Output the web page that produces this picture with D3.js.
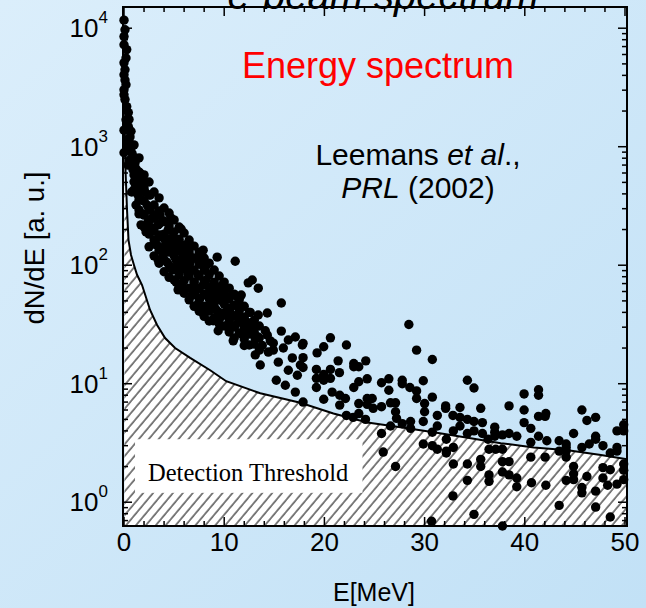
<!DOCTYPE html>
<html><head><meta charset="utf-8">
<script src="https://cdn.jsdelivr.net/npm/d3@7"></script>
<style>html,body{margin:0;padding:0;overflow:hidden;background:#d4ebf9}</style>
</head><body><svg id="c" width="646" height="608"></svg>
<script>
// ---------------- data ----------------
const xTickValues = [0, 10, 20, 30, 40, 50];
const yTickExponents = [0, 1, 2, 3, 4];
const xLabel = "E[MeV]";
const yLabel = "dN/dE [a. u.]";
const titleText = "e-beam spectrum";
const panelTitle = "Energy spectrum";
const thresholdLabel = "Detection Threshold";

// detection threshold curve [E (MeV), dN/dE]
const thresholdCurve = [
  [0.05,1680],[0.15,637],[0.3,293],[0.45,163],[0.7,122],[1.0,100],[1.3,83],[1.8,68],
  [2.6,41.9],[3.3,31.3],[4.1,24.3],[5.1,20],[6.6,16.5],[8.6,13.0],[10.2,10.5],[13.6,8.3],
  [17.6,6.9],[20.9,5.6],[24.3,4.7],[27.6,4.3],[30.9,3.9],[34.3,3.5],[37.6,3.15],[40.9,2.9],
  [44.3,2.75],[47.6,2.5],[50.2,2.3]
];

// measured spectrum, low-energy column
const lowEnergyPoints = [
  [0,11700],[0.1,9700],[0,8500],[0,7250],[0.27,6600],[0.2,5600],[0,5100],[0.1,4460],[0,4050],
  [0.1,3650],[0.2,3330],[0,3020],[0,2740],[0.1,2500],[0.27,2180],[0.43,1940],[0.2,1690],
  [0.43,1480],[0,1380],[0.6,1210],[0.3,1140],[0.77,1000],[0.4,940],[0,890],[0.9,820],[0.6,775],
  [1.1,730],[0.4,700],[0.9,640],[1.6,600],[1.2,545],[1.9,525],[1.0,505],[0.77,415],[2.6,390],
  [0.5,1700],[0.7,1350],[0.5,1100],[0.8,880],[1.2,650],[1.4,520]
];

// dense band 1-14 MeV
const bandCore = [
  [1.0,1036],[1.0,774],[1.0,578],[1.0,432],
  [1.5,804],[1.5,612],[1.5,467],[1.5,355],[1.5,271],
  [2.0,578],[2.0,449],[2.0,349],[2.0,271],[2.0,210],
  [2.5,504],[2.5,392],[2.5,304],[2.5,236],[2.5,183],[2.5,143],
  [3.0,415],[3.0,322],[3.0,250],[3.0,194],[3.0,151],[3.0,120],
  [3.5,370],[3.5,287],[3.5,223],[3.5,173],[3.5,134],[3.5,104],
  [4.0,304],[4.0,236],[4.0,183],[4.0,143],[4.0,111],[4.0,88],
  [4.5,276],[4.5,214],[4.5,166],[4.5,129],[4.5,100],[4.5,79],
  [5.0,241],[5.0,191],[5.0,151],[5.0,120],[5.0,95],[5.0,75],
  [5.5,210],[5.5,166],[5.5,132],[5.5,104],[5.5,83],[5.5,65],
  [6.0,187],[6.0,148],[6.0,117],[6.0,93],[6.0,74],[6.0,58],
  [6.5,163],[6.5,129],[6.5,102],[6.5,81],[6.5,64],[6.5,51],
  [7.0,145],[7.0,115],[7.0,91],[7.0,72],[7.0,57],[7.0,45],
  [7.5,129],[7.5,102],[7.5,81],[7.5,64],[7.5,51],[7.5,41],
  [8.0,115],[8.0,91],[8.0,72],[8.0,57],[8.0,45],[8.0,37],
  [8.5,104],[8.5,83],[8.5,65],[8.5,52],[8.5,41],[8.5,33.8],
  [9.0,91],[9.0,72],[9.0,57],[9.0,45],[9.0,35.8],
  [9.5,81],[9.5,64],[9.5,51],[9.5,40],[9.5,31.9],
  [10.0,72],[10.0,58],[10.0,47],[10.0,38],[10.0,30.7],
  [10.5,64],[10.5,52],[10.5,42],[10.5,33.8],[10.5,27.3],
  [11.0,57],[11.0,46],[11.0,37],[11.0,30.1],[11.0,24.3],
  [11.5,51],[11.5,41],[11.5,33.1],[11.5,26.8],
  [12.0,45],[12.0,36.5],[12.0,29.5],[12.0,23.8],
  [12.5,40],[12.5,32.5],[12.5,26.2],[12.5,21.2],
  [13.0,34.4],[13.0,27.3],[13.0,21.6],
  [13.5,30.7],[13.5,24.3],[13.5,19.2]
];
const bandPoints = [
  [1.2,476],[1.4,392],[1.6,449],[1.8,355],[2.1,415],[2.3,322],[1.5,293],[2.0,265],[2.4,232],
  [1.2,322],[1.7,219],[2.6,293],[2.8,250],[2.2,191],[2.8,206],[3.1,265],[3.4,219],[3.6,180],
  [3.3,148],[3.8,232],[4.1,163],[4.4,198],[3.0,163],[3.9,122],[4.2,134],[4.6,148],[3.4,111],
  [4.3,106],[3.6,265],[4.8,170],[5.0,129],[5.2,111],[5.4,148],[5.6,91],[5.9,122],[6.1,100],
  [6.4,83],[4.8,91],[5.2,72],[5.8,68],[6.2,134],[6.6,106],[5.4,62],[6.8,91],[7.0,72],[7.2,62],
  [7.4,83],[7.6,53],[7.9,68],[8.1,91],[8.3,56],[8.5,46],[6.8,56],[7.3,46],[7.8,40],[8.2,75],
  [8.6,64],[8.8,51],[9.0,62],[9.2,42],[9.4,56],[9.6,36],[9.9,49],[10.1,40],[10.4,31],[8.9,34],
  [9.4,28],[9.8,68],[10.3,54],[10.6,43.5],[10.8,38],[11.1,31],[11.3,46],[11.6,36],[11.8,26],
  [12.1,34],[12.4,28],[10.9,23],[11.4,53],[12.0,21],[12.6,40],[12.8,31],[13.1,24],[13.4,38],
  [13.8,21],[14.1,28],[14.4,18.5],[13.1,17.5],[14.6,23],[13.6,14.4],[14.9,19.2],[15.4,15.2],
  [15.9,20],[16.4,13],[16.8,16.5],[17.3,11.8],[15.2,10.7],[16.1,9.7],[17.6,14.4],[17.1,8.5]
];

// scattered points above the band
const outlierPoints = [
  [4.7,250],[5.7,202],[6.5,153],[7.9,134],[9.3,117],[11.1,108],[6.5,122],[7.5,117],[8.2,100],
  [12.4,71],[12.8,75],[13.4,64],[15.7,48],[14.3,39.5],[11.7,56],[10.8,56],[15.7,27.8],
  [16.4,23.4],[17.1,24.8],[17.8,21.2],[13.4,24.8],[14.3,25.7],[14.9,22]
];

// high-energy tail 18-50 MeV
const tailPoints = [
  [17.87,21.9],[17.87,16.6],[17.87,13.7],[17.87,7.0],[19.27,18.2],[19.93,20.5],[20.6,24.4],
  [22.2,21.2],[19.2,13.2],[19.2,11.1],[19.2,9.3],[19.93,12.0],[19.93,10.7],[19.93,7.4],
  [20.6,13.2],[20.6,11.1],[20.77,8.5],[21.37,15.6],[21.5,12.4],[21.53,8.0],[21.53,6.6],
  [22.1,7.5],[22.2,5.4],[22.93,14.8],[22.93,13.9],[23.43,13.9],[24.13,15.6],[22.93,9.3],
  [23.43,10.4],[23.43,6.8],[23.43,5.6],[22.87,5.2],[24.27,11.0],[24.27,7.5],[24.27,6.7],
  [24.77,7.5],[24.87,6.2],[24.1,5.0],[25.7,10.2],[25.7,6.4],[25.7,3.8],[25.87,2.65],
  [26.43,11.0],[26.43,8.8],[26.6,6.9],[27.1,6.9],[27.1,5.8],[27.2,5.1],[26.6,4.4],[27.1,2.0],
  [27.77,10.7],[27.77,10.0],[28.53,9.3],[28.43,31.6],[29.2,19.2],[29.2,8.7],[29.2,7.5],
  [28.6,4.8],[28.6,4.2],[27.77,4.6],[29.87,10.6],[30.0,6.8],[30.0,5.8],[29.87,4.8],[30.77,16.0],
  [30.77,7.7],[30.77,3.9],[29.87,3.1],[30.77,3.0],[31.27,5.4],[31.27,4.4],[31.27,2.8],
  [32.1,6.5],[32.1,6.2],[32.17,3.4],[32.17,2.7],[32.17,2.6],[32.83,5.4],[32.87,4.0],[32.87,2.9],
  [32.87,2.1],[32.83,1.13],[33.53,6.3],[33.53,5.2],[33.53,4.4],[34.27,10.7],[34.27,5.0],
  [34.27,3.8],[34.27,2.1],[34.27,1.53],[34.93,9.2],[34.93,4.8],[34.93,4.0],[34.93,0.79],
  [35.6,6.2],[35.77,4.7],[35.77,3.8],[35.6,2.3],[35.6,2.0],[36.33,3.4],[36.43,2.8],[36.43,1.7],
  [36.43,1.5],[37.0,4.3],[37.0,3.9],[37.0,3.6],[37.1,2.8],[37.77,3.7],[37.77,2.8],[37.77,2.2],
  [37.77,1.8],[38.43,6.5],[38.43,3.8],[38.43,2.2],[38.43,1.7],[37.77,0.63],[39.2,3.6],[39.2,1.6],
  [39.2,1.35],[39.93,8.2],[39.93,6.0],[39.93,4.7],[40.6,4.2],[40.6,3.2],[40.6,2.4],[40.67,1.46],
  [41.37,8.9],[41.37,8.0],[41.37,5.3],[41.37,3.6],[42.03,5.3],[42.1,5.6],[42.2,3.3],[42.03,2.4],
  [42.1,1.39],[43.43,3.3],[43.43,2.7],[43.43,0.94],[44.13,3.1],[44.13,2.9],[44.13,2.7],
  [44.13,2.4],[44.13,1.53],[44.87,3.8],[44.87,2.0],[44.87,1.74],[44.87,1.55],[45.7,6.0],
  [45.7,2.9],[45.7,1.33],[45.7,1.2],[46.2,4.9],[46.2,1.65],[46.43,3.1],[47.07,5.2],[47.07,3.6],
  [47.07,3.4],[47.07,1.24],[47.07,0.91],[47.8,3.0],[47.8,1.96],[47.8,1.6],[48.27,1.39],
  [48.53,2.6],[48.53,1.88],[48.53,0.75],[49.2,4.0],[49.2,2.9],[49.2,2.7],[49.2,1.42],[49.87,4.5],
  [49.87,4.0],[49.87,2.1],[49.87,1.86],[49.87,1.55],[30.7,0.69]
];

// ---------------- drawing ----------------
const W = 646, H = 608;
const svg = d3.select("#c");
const defs = svg.append("defs");

const bg = defs.append("linearGradient").attr("id","bg")
  .attr("x1","0").attr("y1","0").attr("x2","1").attr("y2","1");
bg.append("stop").attr("offset","0").attr("stop-color","#dbeefb");
bg.append("stop").attr("offset","1").attr("stop-color","#c2e1f6");
svg.append("rect").attr("width",W).attr("height",H).attr("fill","url(#bg)");

const hatch = defs.append("pattern").attr("id","hatch")
  .attr("patternUnits","userSpaceOnUse").attr("width",7.6).attr("height",10)
  .attr("patternTransform","rotate(40)");
hatch.append("rect").attr("width",7.6).attr("height",10).attr("fill","#fff");
hatch.append("line").attr("x1",1).attr("x2",1).attr("y1",0).attr("y2",10)
  .attr("stroke","#000").attr("stroke-width",1);

const pLeft = 123, pRight = 627, pTop = 7, pBottom = 526;
const x = d3.scaleLinear().domain([-0.1, 50.2]).range([pLeft, pRight]);
const y = d3.scaleLog().domain([0.63, 15100]).range([pBottom, pTop]);

// title (cut off at top, as in the original slide)
svg.append("text").attr("x", 383).attr("y", 9)
  .attr("text-anchor","middle").attr("font-family","Liberation Sans, Arial, sans-serif")
  .attr("font-style","italic").attr("font-size",40).attr("fill","#000").text(titleText);

// hatched threshold area
const area = d3.area().x(d => x(d[0])).y0(pBottom).y1(d => y(d[1]));
svg.append("path").datum(thresholdCurve).attr("d", area).attr("fill","url(#hatch)");
svg.append("path").datum(thresholdCurve)
  .attr("d", d3.line().x(d => x(d[0])).y(d => y(d[1])))
  .attr("fill","none").attr("stroke","#000").attr("stroke-width",2);

// detection threshold label box
svg.append("rect").attr("x", x(1.1)).attr("y", y(3.4)).attr("width", x(23.8)-x(1.1))
  .attr("height", y(1.2)-y(3.4)).attr("fill","#fff");
svg.append("text").attr("x", x(2.4)).attr("y", y(1.52))
  .attr("font-family","Liberation Serif, Times New Roman, serif").attr("font-size",24.5)
  .attr("fill","#000").text(thresholdLabel);

// frame and ticks
const g = svg.append("g").attr("stroke","#000").attr("stroke-width",1.5);
const minorX = d3.range(0, 51, 2);
minorX.forEach(v => {
  const len = v % 10 === 0 ? 9 : 5;
  g.append("line").attr("x1",x(v)).attr("x2",x(v)).attr("y1",pBottom).attr("y2",pBottom-len);
  g.append("line").attr("x1",x(v)).attr("x2",x(v)).attr("y1",pTop).attr("y2",pTop+len);
});
const yMinor = [];
for (let e = -1; e <= 4; e++) for (let m = 1; m <= 9; m++) {
  const v = m * Math.pow(10, e);
  if (v >= 0.63 && v <= 15100) yMinor.push([v, m === 1]);
}
yMinor.forEach(([v, major]) => {
  const len = major ? 9 : 5;
  g.append("line").attr("x1",pLeft).attr("x2",pLeft+len).attr("y1",y(v)).attr("y2",y(v));
  g.append("line").attr("x1",pRight).attr("x2",pRight-len).attr("y1",y(v)).attr("y2",y(v));
});
svg.append("rect").attr("x",pLeft).attr("y",pTop).attr("width",pRight-pLeft).attr("height",pBottom-pTop)
  .attr("fill","none").attr("stroke","#000").attr("stroke-width",2);

// points
const allPoints = lowEnergyPoints.concat(bandCore, bandPoints, outlierPoints, tailPoints);
svg.append("g").selectAll("circle").data(allPoints).enter().append("circle")
  .attr("cx", d => x(d[0])).attr("cy", d => y(d[1])).attr("r", 4.7).attr("fill","#000");

// tick labels
const font = "Liberation Sans, Arial, Helvetica, sans-serif";
xTickValues.forEach(v => {
  svg.append("text").attr("x", x(v)).attr("y", 551).attr("text-anchor","middle")
    .attr("font-family",font).attr("font-size",26).attr("fill","#000").text(v);
});
yTickExponents.forEach(e => {
  const t = svg.append("text").attr("x", 108).attr("y", y(Math.pow(10,e)) + 9)
    .attr("text-anchor","end").attr("font-family",font).attr("font-size",26).attr("fill","#000");
  t.append("tspan").text("10");
  t.append("tspan").attr("dy",-14).attr("font-size",17).text(e);
});

// axis labels
svg.append("text").attr("x", 374).attr("y", 601).attr("text-anchor","middle")
  .attr("font-family",font).attr("font-size",25).attr("fill","#000").text(xLabel);
svg.append("text").attr("transform","translate(44,248) rotate(-90)").attr("text-anchor","middle")
  .attr("font-family",font).attr("font-size",27.5).attr("fill","#000").text(yLabel);

// annotations
svg.append("text").attr("x", 378).attr("y", 78).attr("text-anchor","middle")
  .attr("font-family",font).attr("font-size",36).attr("fill","#ff0000").text(panelTitle);
const t1 = svg.append("text").attr("x", 418).attr("y", 165).attr("text-anchor","middle")
  .attr("font-family",font).attr("font-size",30).attr("fill","#000");
t1.append("tspan").text("Leemans ");
t1.append("tspan").attr("font-style","italic").text("et al");
t1.append("tspan").text(".,");
const t2 = svg.append("text").attr("x", 418).attr("y", 198).attr("text-anchor","middle")
  .attr("font-family",font).attr("font-size",30).attr("fill","#000");
t2.append("tspan").attr("font-style","italic").text("PRL");
t2.append("tspan").text(" (2002)");
</script>
</body></html>
